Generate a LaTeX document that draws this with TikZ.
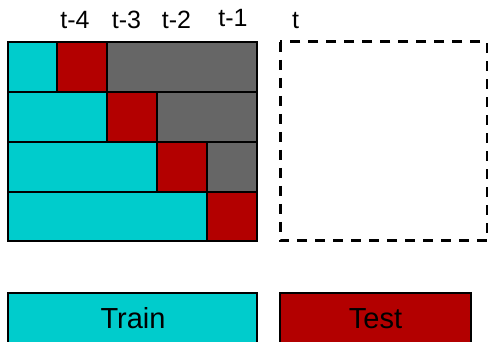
\documentclass[tikz,border=0pt]{standalone}
\usepackage{fontspec}
\setmainfont{Liberation Sans}
\definecolor{trainc}{RGB}{0,204,204}
\definecolor{testc}{RGB}{179,0,0}
\definecolor{grayc}{RGB}{102,102,102}
\begin{document}
\begin{tikzpicture}[x=1pt,y=-1pt,
  cell/.style={draw=black,line width=1.3pt},
  lbl/.style={anchor=base,inner sep=0pt,font=\fontsize{25}{25}\selectfont},
  leg/.style={anchor=base,inner sep=0pt,font=\fontsize{29}{29}\selectfont}]
\useasboundingbox (0,0) rectangle (488,342);
% row 1
\filldraw[cell,fill=trainc] (8,42) rectangle (57,92);
\filldraw[cell,fill=testc] (57,42) rectangle (107,92);
\filldraw[cell,fill=grayc] (107,42) rectangle (257,92);
% row 2
\filldraw[cell,fill=trainc] (8,92) rectangle (107,142);
\filldraw[cell,fill=testc] (107,92) rectangle (157,142);
\filldraw[cell,fill=grayc] (157,92) rectangle (257,142);
% row 3
\filldraw[cell,fill=trainc] (8,142) rectangle (157,192);
\filldraw[cell,fill=testc] (157,142) rectangle (207,192);
\filldraw[cell,fill=grayc] (207,142) rectangle (257,192);
% row 4
\filldraw[cell,fill=trainc] (8,192) rectangle (207,241);
\filldraw[cell,fill=testc] (207,192) rectangle (257,241);
% dashed future box
\draw[line width=3pt,dash pattern=on 10pt off 8pt] (280,42) rectangle (487,241);
% labels
\node[lbl] (l4) at (75,29) {t-4};
\node[lbl] (l3) at (126.5,29) {t-3};
\node[lbl] (l2) at (176.5,29) {t-2};
\node[lbl] (l1) at (233,27) {t-1};
\node[lbl] (l0) at (295.5,29) {t};
% legend
\filldraw[cell,fill=trainc] (8,293) rectangle (257,350);
\filldraw[cell,fill=testc] (280,293) rectangle (471,350);
\node[leg] (tr) at (133,328) {Train};
\node[leg] (te) at (375.5,328) {Test};
\end{tikzpicture}
\end{document}
